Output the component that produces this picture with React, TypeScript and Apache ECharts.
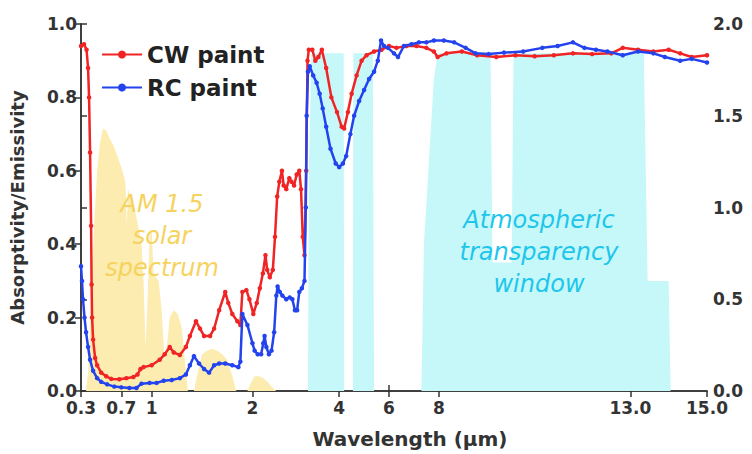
import React, { useEffect, useRef } from "react";
import * as echarts from "echarts";

// Piecewise wavelength axis (µm)
const AXIS_BREAKS = [0.3, 2, 4, 8, 15];
const AXIS_UNITS = [0, 172, 259, 359, 628];
const BOTTOM_TICKS = [0.3, 0.7, 1, 2, 4, 6, 8, 13, 15];
const BOTTOM_LABELS = ["0.3", "0.7", "1", "2", "4", "6", "8", "13.0", "15.0"];
const TOP_TICKS = [1, 2, 4, 6, 8, 13];

const CW_WL = [0.3, 0.33, 0.355, 0.37, 0.38, 0.39, 0.4, 0.405, 0.41, 0.42, 0.44, 0.46, 0.5, 0.55, 0.6, 0.68, 0.75, 0.82, 0.86, 0.89, 0.92, 1.0, 1.08, 1.13, 1.18, 1.22, 1.28, 1.34, 1.38, 1.44, 1.48, 1.52, 1.58, 1.62, 1.67, 1.73, 1.76, 1.8, 1.85, 1.88, 1.9, 1.94, 1.97, 2.02, 2.1, 2.17, 2.24, 2.3, 2.34, 2.4, 2.47, 2.52, 2.57, 2.62, 2.68, 2.72, 2.78, 2.85, 2.9, 2.96, 3.02, 3.08, 3.12, 3.16, 3.2, 3.24, 3.27, 3.3, 3.38, 3.45, 3.52, 3.6, 3.7, 3.82, 3.95, 4.1, 4.2, 4.35, 4.5, 4.7, 4.9, 5.1, 5.4, 5.7, 6.0, 6.3, 6.7, 7.1, 7.5, 7.8, 7.95, 8.2, 8.6, 9.0, 9.5, 10.0, 10.5, 11.0, 11.5, 12.0, 12.5, 12.8, 13.2, 13.6, 14.0, 14.3, 14.6, 15.0];
const CW_VAL = [0.94, 0.945, 0.93, 0.88, 0.8, 0.65, 0.45, 0.29, 0.2, 0.14, 0.09, 0.07, 0.05, 0.04, 0.033, 0.032, 0.035, 0.038, 0.045, 0.06, 0.065, 0.07, 0.085, 0.1, 0.12, 0.105, 0.098, 0.12, 0.15, 0.19, 0.17, 0.15, 0.15, 0.17, 0.22, 0.27, 0.24, 0.21, 0.19, 0.18, 0.27, 0.275, 0.25, 0.21, 0.24, 0.28, 0.32, 0.37, 0.33, 0.31, 0.33, 0.42, 0.53, 0.57, 0.6, 0.56, 0.55, 0.58, 0.57, 0.56, 0.59, 0.6, 0.55, 0.42, 0.37, 0.6, 0.9, 0.93, 0.93, 0.9, 0.91, 0.93, 0.88, 0.8, 0.76, 0.72, 0.715, 0.76, 0.81, 0.86, 0.9, 0.915, 0.925, 0.93, 0.94, 0.935, 0.94, 0.94, 0.935, 0.925, 0.91, 0.92, 0.925, 0.915, 0.91, 0.915, 0.912, 0.915, 0.92, 0.918, 0.92, 0.935, 0.93, 0.925, 0.93, 0.92, 0.91, 0.915];

const RC_WL = [0.3, 0.31, 0.32, 0.335, 0.35, 0.37, 0.39, 0.42, 0.46, 0.5, 0.56, 0.63, 0.7, 0.78, 0.85, 0.9, 0.98, 1.05, 1.12, 1.2, 1.28, 1.34, 1.38, 1.42, 1.47, 1.52, 1.57, 1.62, 1.67, 1.73, 1.8, 1.86, 1.88, 1.9, 1.95, 2.0, 2.05, 2.12, 2.2, 2.25, 2.28, 2.32, 2.38, 2.44, 2.5, 2.55, 2.58, 2.63, 2.69, 2.78, 2.86, 2.92, 2.98, 3.03, 3.08, 3.14, 3.2, 3.23, 3.25, 3.28, 3.32, 3.4, 3.48, 3.55, 3.62, 3.7, 3.8, 3.92, 4.0, 4.15, 4.28, 4.45, 4.6, 4.8, 5.0, 5.2, 5.4, 5.55, 5.68, 5.8, 5.96, 6.2, 6.36, 6.6, 6.9, 7.2, 7.5, 7.8, 8.13, 8.4, 8.7, 8.96, 9.3, 9.7, 10.2, 10.7, 11.1, 11.5, 11.8, 12.1, 12.4, 12.8, 13.2, 13.6, 13.9, 14.3, 14.6, 15.0];
const RC_VAL = [0.34, 0.3, 0.25, 0.2, 0.16, 0.12, 0.085, 0.055, 0.035, 0.025, 0.018, 0.012, 0.01, 0.008, 0.008, 0.02, 0.022, 0.022, 0.028, 0.03, 0.035, 0.045, 0.07, 0.095, 0.075, 0.06, 0.05, 0.07, 0.075, 0.075, 0.07, 0.065, 0.08, 0.21, 0.18, 0.13, 0.11, 0.1, 0.1, 0.13, 0.15, 0.12, 0.1, 0.11, 0.16, 0.26, 0.285, 0.27, 0.26, 0.25, 0.255, 0.25, 0.22, 0.22, 0.27, 0.28, 0.3, 0.5, 0.75, 0.87, 0.885, 0.86, 0.84, 0.81, 0.77, 0.72, 0.66, 0.62, 0.61, 0.62, 0.64, 0.7, 0.75, 0.79, 0.82, 0.85, 0.87, 0.9, 0.955, 0.94, 0.935, 0.92, 0.91, 0.94, 0.945, 0.95, 0.95, 0.955, 0.955, 0.95, 0.935, 0.92, 0.918, 0.922, 0.925, 0.935, 0.94, 0.95, 0.935, 0.93, 0.925, 0.915, 0.925, 0.92, 0.91, 0.9, 0.905, 0.895];

const SOLAR_WL = [0.3, 0.35, 0.37, 0.4, 0.43, 0.46, 0.49, 0.52, 0.55, 0.58, 0.62, 0.66, 0.7, 0.74, 0.755, 0.765, 0.78, 0.83, 0.88, 0.9, 0.92, 0.94, 0.96, 0.98, 1.0, 1.02, 1.07, 1.1, 1.13, 1.15, 1.18, 1.22, 1.26, 1.3, 1.33, 1.36, 1.42, 1.45, 1.5, 1.55, 1.6, 1.65, 1.7, 1.75, 1.8, 1.84, 1.95, 1.98, 2.05, 2.15, 2.25, 2.35, 2.45, 2.55, 15];
const SOLAR_VAL = [0, 0, 0.05, 0.25, 0.45, 0.6, 0.68, 0.715, 0.71, 0.69, 0.67, 0.64, 0.61, 0.57, 0.45, 0.55, 0.54, 0.5, 0.43, 0.4, 0.3, 0.12, 0.25, 0.42, 0.44, 0.32, 0.3, 0.22, 0.08, 0.12, 0.2, 0.22, 0.21, 0.17, 0.08, 0, 0, 0.04, 0.1, 0.11, 0.115, 0.11, 0.1, 0.085, 0.04, 0, 0, 0.02, 0.04, 0.04, 0.035, 0.025, 0.01, 0, 0];

const ATM_WL = [0.3, 3.28, 3.3, 3.36, 4.18, 4.2, 4.55, 4.57, 5.35, 5.4, 7.3, 7.4, 7.8, 7.95, 9.35, 9.4, 9.9, 9.95, 13.35, 13.45, 14.0, 14.05, 15];
const ATM_VAL = [0, 0, 0.6, 0.92, 0.92, 0, 0, 0.92, 0.92, 0, 0, 0.4, 0.85, 0.92, 0.92, 0.35, 0.35, 0.92, 0.92, 0.3, 0.3, 0, 0];

function toU(w: number): number {
  for (let i = 0; i < AXIS_BREAKS.length - 1; i++) {
    const a = AXIS_BREAKS[i];
    const b = AXIS_BREAKS[i + 1];
    if (w <= b || i === AXIS_BREAKS.length - 2) {
      return AXIS_UNITS[i] + ((w - a) / (b - a)) * (AXIS_UNITS[i + 1] - AXIS_UNITS[i]);
    }
  }
  return 0;
}

const pairs = (xs: number[], ys: number[]) => xs.map((w, i) => [toU(w), ys[i]]);

const FONT = "DejaVu Sans";
const AXIS_COLOR = "#333";

export default function App() {
  const ref = useRef<HTMLDivElement>(null);
  useEffect(() => {
    if (!ref.current) return;
    const chart = echarts.init(ref.current, undefined, { renderer: "svg" });
    const bottomTickU = BOTTOM_TICKS.map(toU);
    const topTickU = TOP_TICKS.map(toU);
    const labelFor = (v: number) => {
      let best = 0;
      let d = Infinity;
      bottomTickU.forEach((u, i) => {
        if (Math.abs(u - v) < d) {
          d = Math.abs(u - v);
          best = i;
        }
      });
      return BOTTOM_LABELS[best];
    };
    const axisLine = { show: true, lineStyle: { color: AXIS_COLOR, width: 1.5 } };
    const tickLabel = { fontFamily: FONT, fontWeight: "bold", fontSize: 17, color: AXIS_COLOR };
    chart.setOption({
      animation: false,
      backgroundColor: "#fff",
      grid: { left: 79, right: 45, top: 24, bottom: 62 },
      legend: {
        data: ["CW paint", "RC paint"],
        orient: "vertical",
        left: 96,
        top: 38,
        itemWidth: 40,
        itemHeight: 10,
        itemGap: 10,
        textStyle: { fontFamily: FONT, fontWeight: "bold", fontSize: 23, color: "#222" },
      },
      xAxis: [
        {
          type: "value",
          min: 0,
          max: 628,
          position: "bottom",
          axisLine,
          splitLine: { show: false },
          axisTick: { show: true, length: 6, customValues: bottomTickU, lineStyle: { color: AXIS_COLOR, width: 1.5 } },
          axisLabel: { ...tickLabel, margin: 8, customValues: bottomTickU, formatter: (v: number) => labelFor(v) },
          name: "Wavelength (µm)",
          nameLocation: "middle",
          nameGap: 38,
          nameTextStyle: { fontFamily: FONT, fontWeight: "bold", fontSize: 20, color: AXIS_COLOR, padding: [0, 0, 0, 32] },
        },
        {
          type: "value",
          min: 0,
          max: 628,
          position: "top",
          axisLine,
          splitLine: { show: false },
          axisTick: { show: true, length: 6, customValues: topTickU, lineStyle: { color: AXIS_COLOR, width: 1.5 } },
          axisLabel: { show: false },
        },
      ],
      yAxis: [
        {
          type: "value",
          min: 0,
          max: 1,
          interval: 0.2,
          position: "left",
          axisLine,
          splitLine: { show: false },
          axisTick: { show: true, length: 6, lineStyle: { color: AXIS_COLOR, width: 1.5 } },
          axisLabel: { ...tickLabel, margin: 4, formatter: (v: number) => v.toFixed(1) },
          name: "Absorptivity/Emissivity",
          nameLocation: "middle",
          nameGap: 55,
          nameTextStyle: { fontFamily: FONT, fontWeight: "bold", fontSize: 18, color: AXIS_COLOR },
        },
        {
          type: "value",
          min: 0,
          max: 2,
          interval: 0.5,
          position: "right",
          axisLine,
          splitLine: { show: false },
          axisTick: { show: true, length: 6, lineStyle: { color: AXIS_COLOR, width: 1.5 } },
          axisLabel: { ...tickLabel, margin: 6, formatter: (v: number) => v.toFixed(1) },
        },
      ],
      series: [
        {
          name: "solar",
          type: "line",
          data: pairs(SOLAR_WL, SOLAR_VAL),
          symbol: "none",
          lineStyle: { width: 0 },
          areaStyle: { color: "#fcecb0", opacity: 1 },
          silent: true,
          z: 1,
        },
        {
          name: "atm",
          type: "line",
          data: pairs(ATM_WL, ATM_VAL),
          symbol: "none",
          lineStyle: { width: 0 },
          areaStyle: { color: "#c6f8fa", opacity: 1 },
          silent: true,
          z: 1,
        },
        {
          name: "CW paint",
          type: "line",
          data: pairs(CW_WL, CW_VAL),
          color: "#f02424",
          symbol: "circle",
          symbolSize: 4.5,
          lineStyle: { width: 2.5 },
          z: 3,
        },
        {
          name: "RC paint",
          type: "line",
          data: pairs(RC_WL, RC_VAL),
          color: "#2343ee",
          symbol: "circle",
          symbolSize: 4.5,
          lineStyle: { width: 2.5 },
          z: 4,
        },
      ],
      graphic: [
        {
          type: "text",
          x: 162,
          y: 188,
          style: {
            text: "AM 1.5\nsolar\nspectrum",
            align: "center",
            verticalAlign: "top",
            fill: "#f5d35e",
            fontFamily: FONT,
            fontStyle: "italic",
            fontSize: 24,
            lineHeight: 32,
          },
          z: 10,
        },
        {
          type: "text",
          x: 539,
          y: 204,
          style: {
            text: "Atmospheric\ntransparency\nwindow",
            align: "center",
            verticalAlign: "top",
            fill: "#1ec6ea",
            fontFamily: FONT,
            fontStyle: "italic",
            fontSize: 24,
            lineHeight: 32,
          },
          z: 10,
        },
      ],
    });
    return () => chart.dispose();
  }, []);
  return <div ref={ref} style={{ width: 752, height: 454, position: "absolute", left: 0, top: 0 }} />;
}
